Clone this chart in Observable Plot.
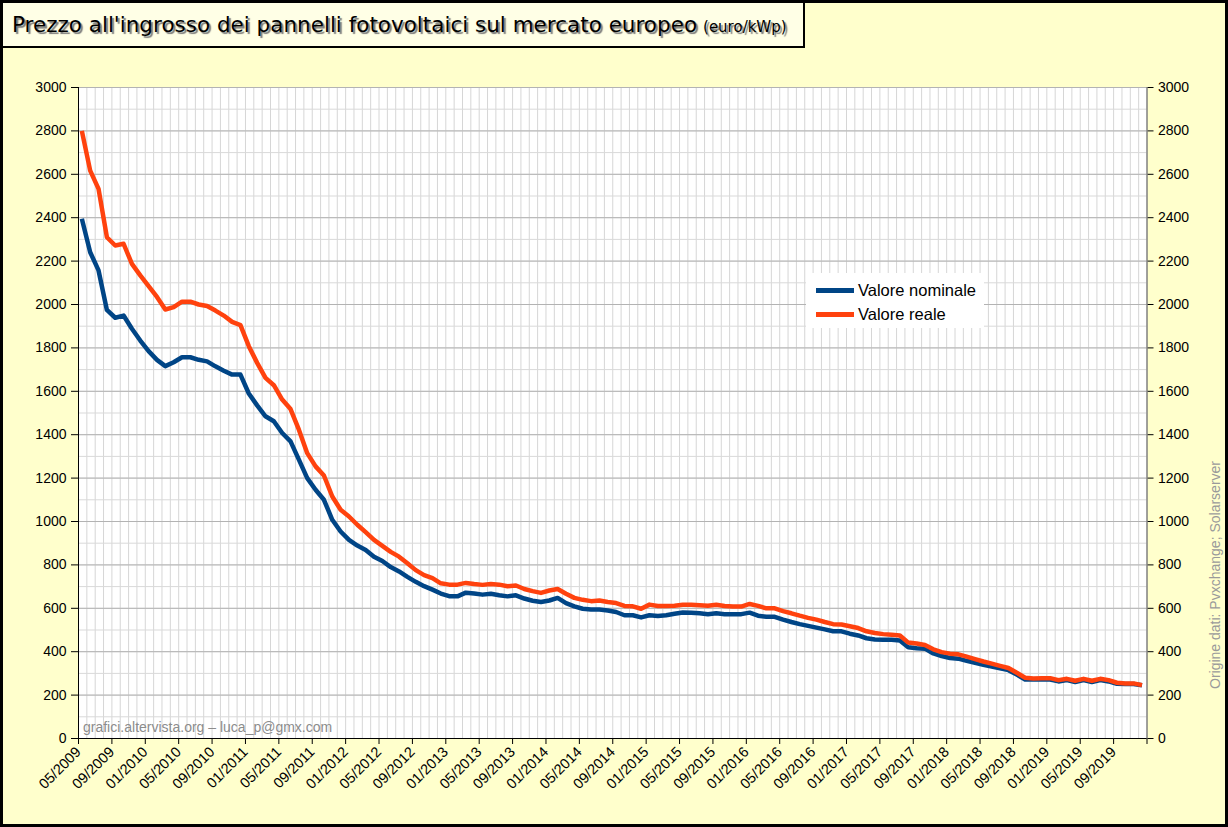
<!DOCTYPE html>
<html lang="it">
<head>
<meta charset="utf-8">
<script src="https://cdn.jsdelivr.net/npm/d3@7"></script>
<script src="https://cdn.jsdelivr.net/npm/@observablehq/plot@0.6"></script>
<style>
html,body{margin:0;padding:0;background:#ffffcc;}
#wrap{position:relative;width:1228px;height:827px;box-sizing:border-box;border:3px solid #000;background:#ffffcc;overflow:hidden;font-family:"Liberation Sans",Arial,sans-serif;}
#chart{position:absolute;left:0;top:0;}
#title{position:absolute;left:0;top:0;width:802px;height:45px;box-sizing:border-box;border-right:2px solid #000;border-bottom:2px solid #000;background:#ffffe6;white-space:nowrap;}
#title .main{position:absolute;left:9px;top:11px;line-height:1;font-family:"DejaVu Sans",sans-serif;font-size:21.5px;color:#000;text-shadow:2px 2px 1px #7a7a7a;}
#title .unit{font-size:15px;margin-left:6px;}
#legend{position:absolute;left:803px;top:270px;width:178px;height:55px;background:#fff;}
#legend .sw{position:absolute;left:10px;width:38px;height:4.5px;}
#legend .lb{position:absolute;left:52px;font-size:16.5px;line-height:1;color:#000;}
#source{position:absolute;left:1212px;top:572px;transform:translate(-50%,-50%) rotate(-90deg);white-space:nowrap;font-size:14px;font-weight:normal;color:#9a9a9a;line-height:1;}
#mark{position:absolute;left:80px;top:717px;font-size:14px;line-height:1;color:#8c8c8c;white-space:nowrap;}
</style>
</head>
<body>
<div id="wrap">
  <div id="chart"></div>
  <div id="title"><div class="main">Prezzo all'ingrosso dei pannelli fotovoltaici sul mercato europeo<span class="unit">(euro/kWp)</span></div></div>
  <div id="legend"></div>
  <div id="source">Origine dati: Pvxchange; Solarserver</div>
  <div id="mark">grafici.altervista.org – luca_p@gmx.com</div>
</div>
<script>
// Monthly values, 05/2009 ... 12/2019 (euro/kWp)
const nominale = [
  2395,2241,2157,1975,1939,1949,1888,1834,1785,1745,1716,1734,
  1757,1757,1745,1738,1715,1695,1677,1677,1590,1535,1485,1462,
  1408,1369,1285,1200,1146,1100,1008,954,915,889,869,838,
  818,790,770,745,722,702,686,668,656,655,672,668,
  663,667,660,655,660,645,635,629,636,648,624,609,
  598,594,594,590,583,568,568,558,568,564,568,575,
  581,580,577,573,577,573,573,573,580,566,561,561,
  548,537,527,519,511,503,494,494,483,475,462,456,
  455,455,452,420,416,414,392,380,371,368,358,349,
  340,332,323,315,295,272,272,272,272,263,269,260,
  269,260,269,263,252,251,251,245
];
const reale = [
  2800,2617,2533,2310,2272,2280,2187,2134,2085,2035,1977,1988,
  2013,2013,2000,1993,1972,1949,1920,1905,1808,1731,1662,1628,
  1562,1518,1423,1315,1254,1212,1115,1054,1023,985,951,915,
  888,860,838,808,776,753,739,715,709,709,717,712,
  708,712,709,702,705,689,679,671,682,689,667,648,
  639,633,636,629,624,611,609,598,617,611,611,612,
  616,616,614,612,616,611,608,608,620,611,600,600,
  587,577,566,556,548,537,527,525,517,509,494,486,
  481,478,475,442,438,431,411,398,391,388,377,366,
  355,345,335,325,303,280,277,278,278,269,275,266,
  275,266,275,269,257,254,254,246
];
const serie = ["Valore nominale", "Valore reale"];
const colori = ["#004586", "#ff420e"];
const tickLabels = [
  "05/2009","09/2009","01/2010","05/2010","09/2010","01/2011","05/2011","09/2011",
  "01/2012","05/2012","09/2012","01/2013","05/2013","09/2013","01/2014","05/2014",
  "09/2014","01/2015","05/2015","09/2015","01/2016","05/2016","09/2016","01/2017",
  "05/2017","09/2017","01/2018","05/2018","09/2018","01/2019","05/2019","09/2019",""
];
const yTicks = d3.range(0, 3001, 200);

const rows = [];
nominale.forEach((v, i) => rows.push({m: i + 0.4, v, s: serie[0]}));
reale.forEach((v, i) => rows.push({m: i + 0.4, v, s: serie[1]}));

const xTicks = d3.range(0, 4 * (tickLabels.length - 1) + 1, 4);
const nMonths = 4 * (tickLabels.length - 1);

const chart = Plot.plot({
  width: 1222,
  height: 821,
  marginLeft: 75,
  marginRight: 78.5,
  marginTop: 84,
  marginBottom: 86,
  style: {background: "transparent", fontFamily: "'Liberation Sans', Arial, sans-serif", fontSize: "14px", color: "#000"},
  x: {domain: [0, nMonths], axis: null},
  y: {domain: [0, 3000], axis: null},
  color: {domain: serie, range: colori},
  marks: [
    Plot.frame({fill: "white", stroke: "none"}),
    Plot.gridX(d3.range(0, nMonths + 1), {stroke: "#d6d6d6", strokeOpacity: 1}),
    Plot.gridY(d3.range(0, 3001, 100), {stroke: "#d9d9d9", strokeOpacity: 1}),
    Plot.gridY(yTicks, {stroke: "#b3b3b3", strokeOpacity: 1}),
    Plot.axisY(yTicks, {anchor: "left", tickSize: 7, tickPadding: 5, label: null, fontSize: 14, tickFormat: d => String(d)}),
    Plot.axisY(yTicks, {anchor: "right", tickSize: 6, tickPadding: 5, label: null, fontSize: 14, tickFormat: d => String(d)}),
    Plot.axisX(xTicks, {anchor: "bottom", tickSize: 6, tickPadding: 5, tickRotate: -45, label: null, fontSize: 14.5,
      tickFormat: d => tickLabels[d / 4]}),
    Plot.ruleX([0], {stroke: "#000"}),
    Plot.ruleX([nMonths], {stroke: "#555"}),
    Plot.ruleY([0], {stroke: "#000"}),
    Plot.line(rows, {x: "m", y: "v", stroke: "s", z: "s", strokeWidth: 4.5, strokeLinejoin: "round", strokeLinecap: "butt"})
  ]
});
document.getElementById("chart").appendChild(chart);

// legend
const legend = document.getElementById("legend");
serie.forEach((s, k) => {
  const sw = document.createElement("div");
  sw.className = "sw";
  sw.style.top = (15 + 24 * k) + "px";
  sw.style.background = colori[k];
  legend.appendChild(sw);
  const lb = document.createElement("div");
  lb.className = "lb";
  lb.style.top = (9 + 24 * k) + "px";
  lb.textContent = s;
  legend.appendChild(lb);
});
</script>
</body>
</html>
